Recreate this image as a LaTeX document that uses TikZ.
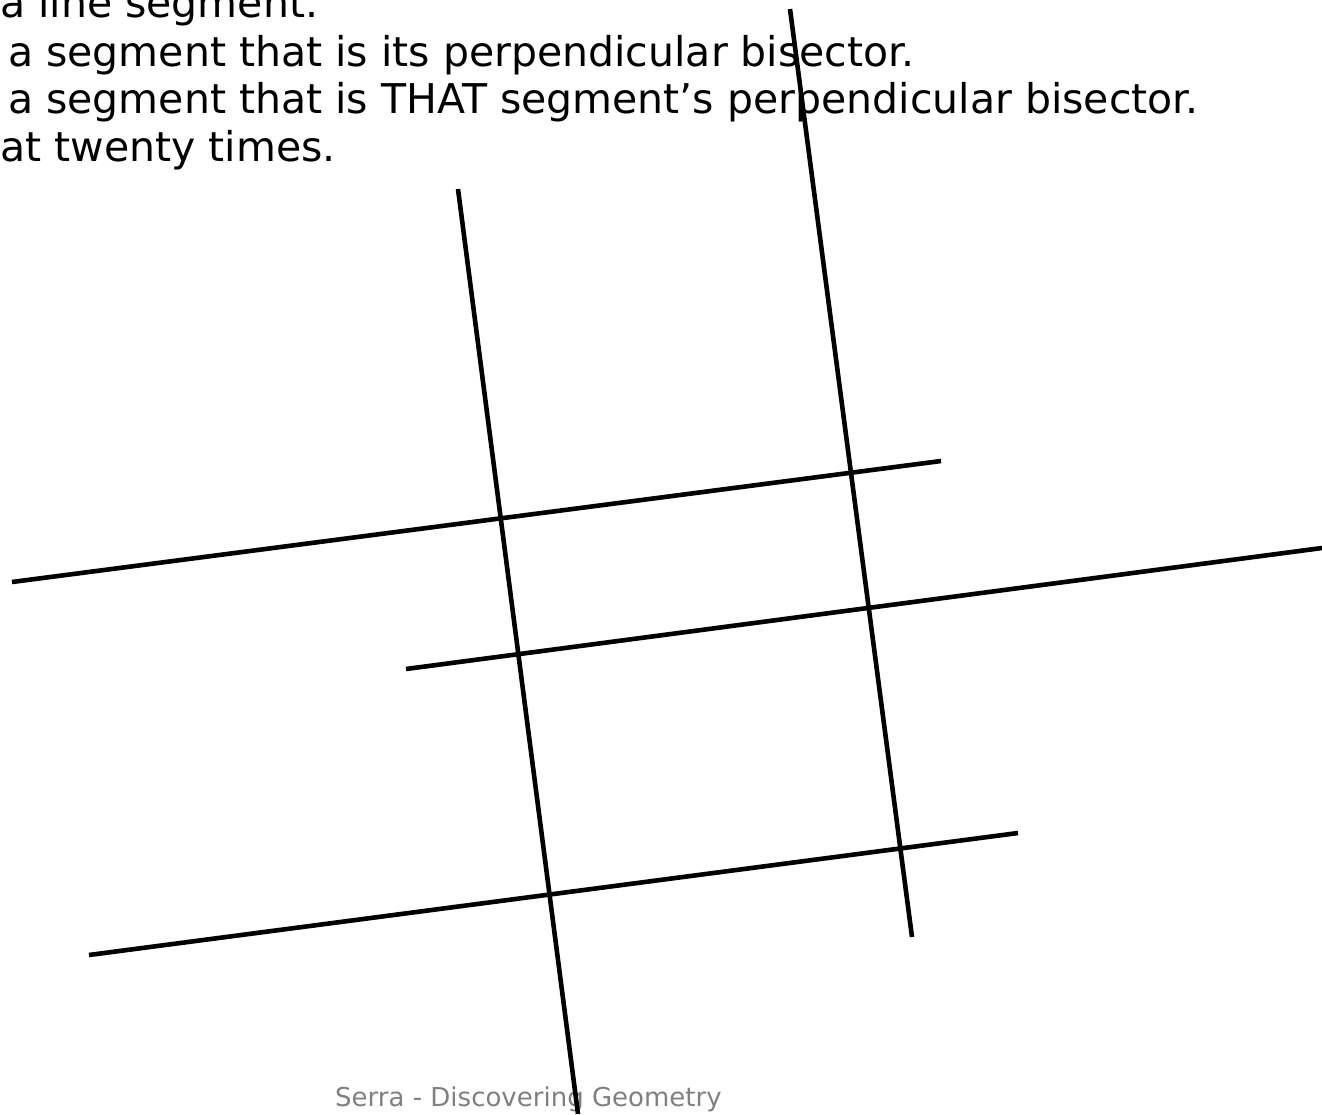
\documentclass[tikz,border=0pt]{standalone}
\usepackage{fontspec}
\setmainfont{DejaVu Sans}
\usetikzlibrary{positioning}

\begin{document}
\begin{tikzpicture}[x=1pt,y=-1pt]
  \tikzset{
    seg/.style={
      line width=4.6pt,
      line cap=butt},
    txt/.style={
      anchor=base west,
      inner sep=0pt,
      font=\fontsize{41}{48}\selectfont},
    foot/.style={
      anchor=base west,
      inner sep=0pt,
      text=gray,
      font=\fontsize{26}{32}\selectfont}}

  \useasboundingbox (0,0) rectangle (1322,1114);

  \node[txt] (l1) at (0,17) {a line segment.};
  \node[txt] (l2) at (8,66) {a segment that is its perpendicular bisector.};
  \node[txt] (l3) at (8,113) {a segment that is THAT segment's perpendicular bisector.};
  \node[txt] (l4) at (0,161) {at twenty times.};
  \node[foot] (src) at (335,1106) {Serra - Discovering Geometry};

  \coordinate (v1a) at (458,189);
  \coordinate (v1b) at (578,1114);
  \coordinate (v2a) at (790,9);
  \coordinate (v2b) at (912,937);
  \coordinate (h1a) at (12,582);
  \coordinate (h1b) at (941,461);
  \coordinate (h2a) at (406,669);
  \coordinate (h2b) at (1322,548);
  \coordinate (h3a) at (89,955);
  \coordinate (h3b) at (1018,833);

  \draw[seg] (v1a) -- (v1b);
  \draw[seg] (v2a) -- (v2b);
  \draw[seg] (h1a) -- (h1b);
  \draw[seg] (h2a) -- (h2b);
  \draw[seg] (h3a) -- (h3b);

\end{tikzpicture}
\end{document}
